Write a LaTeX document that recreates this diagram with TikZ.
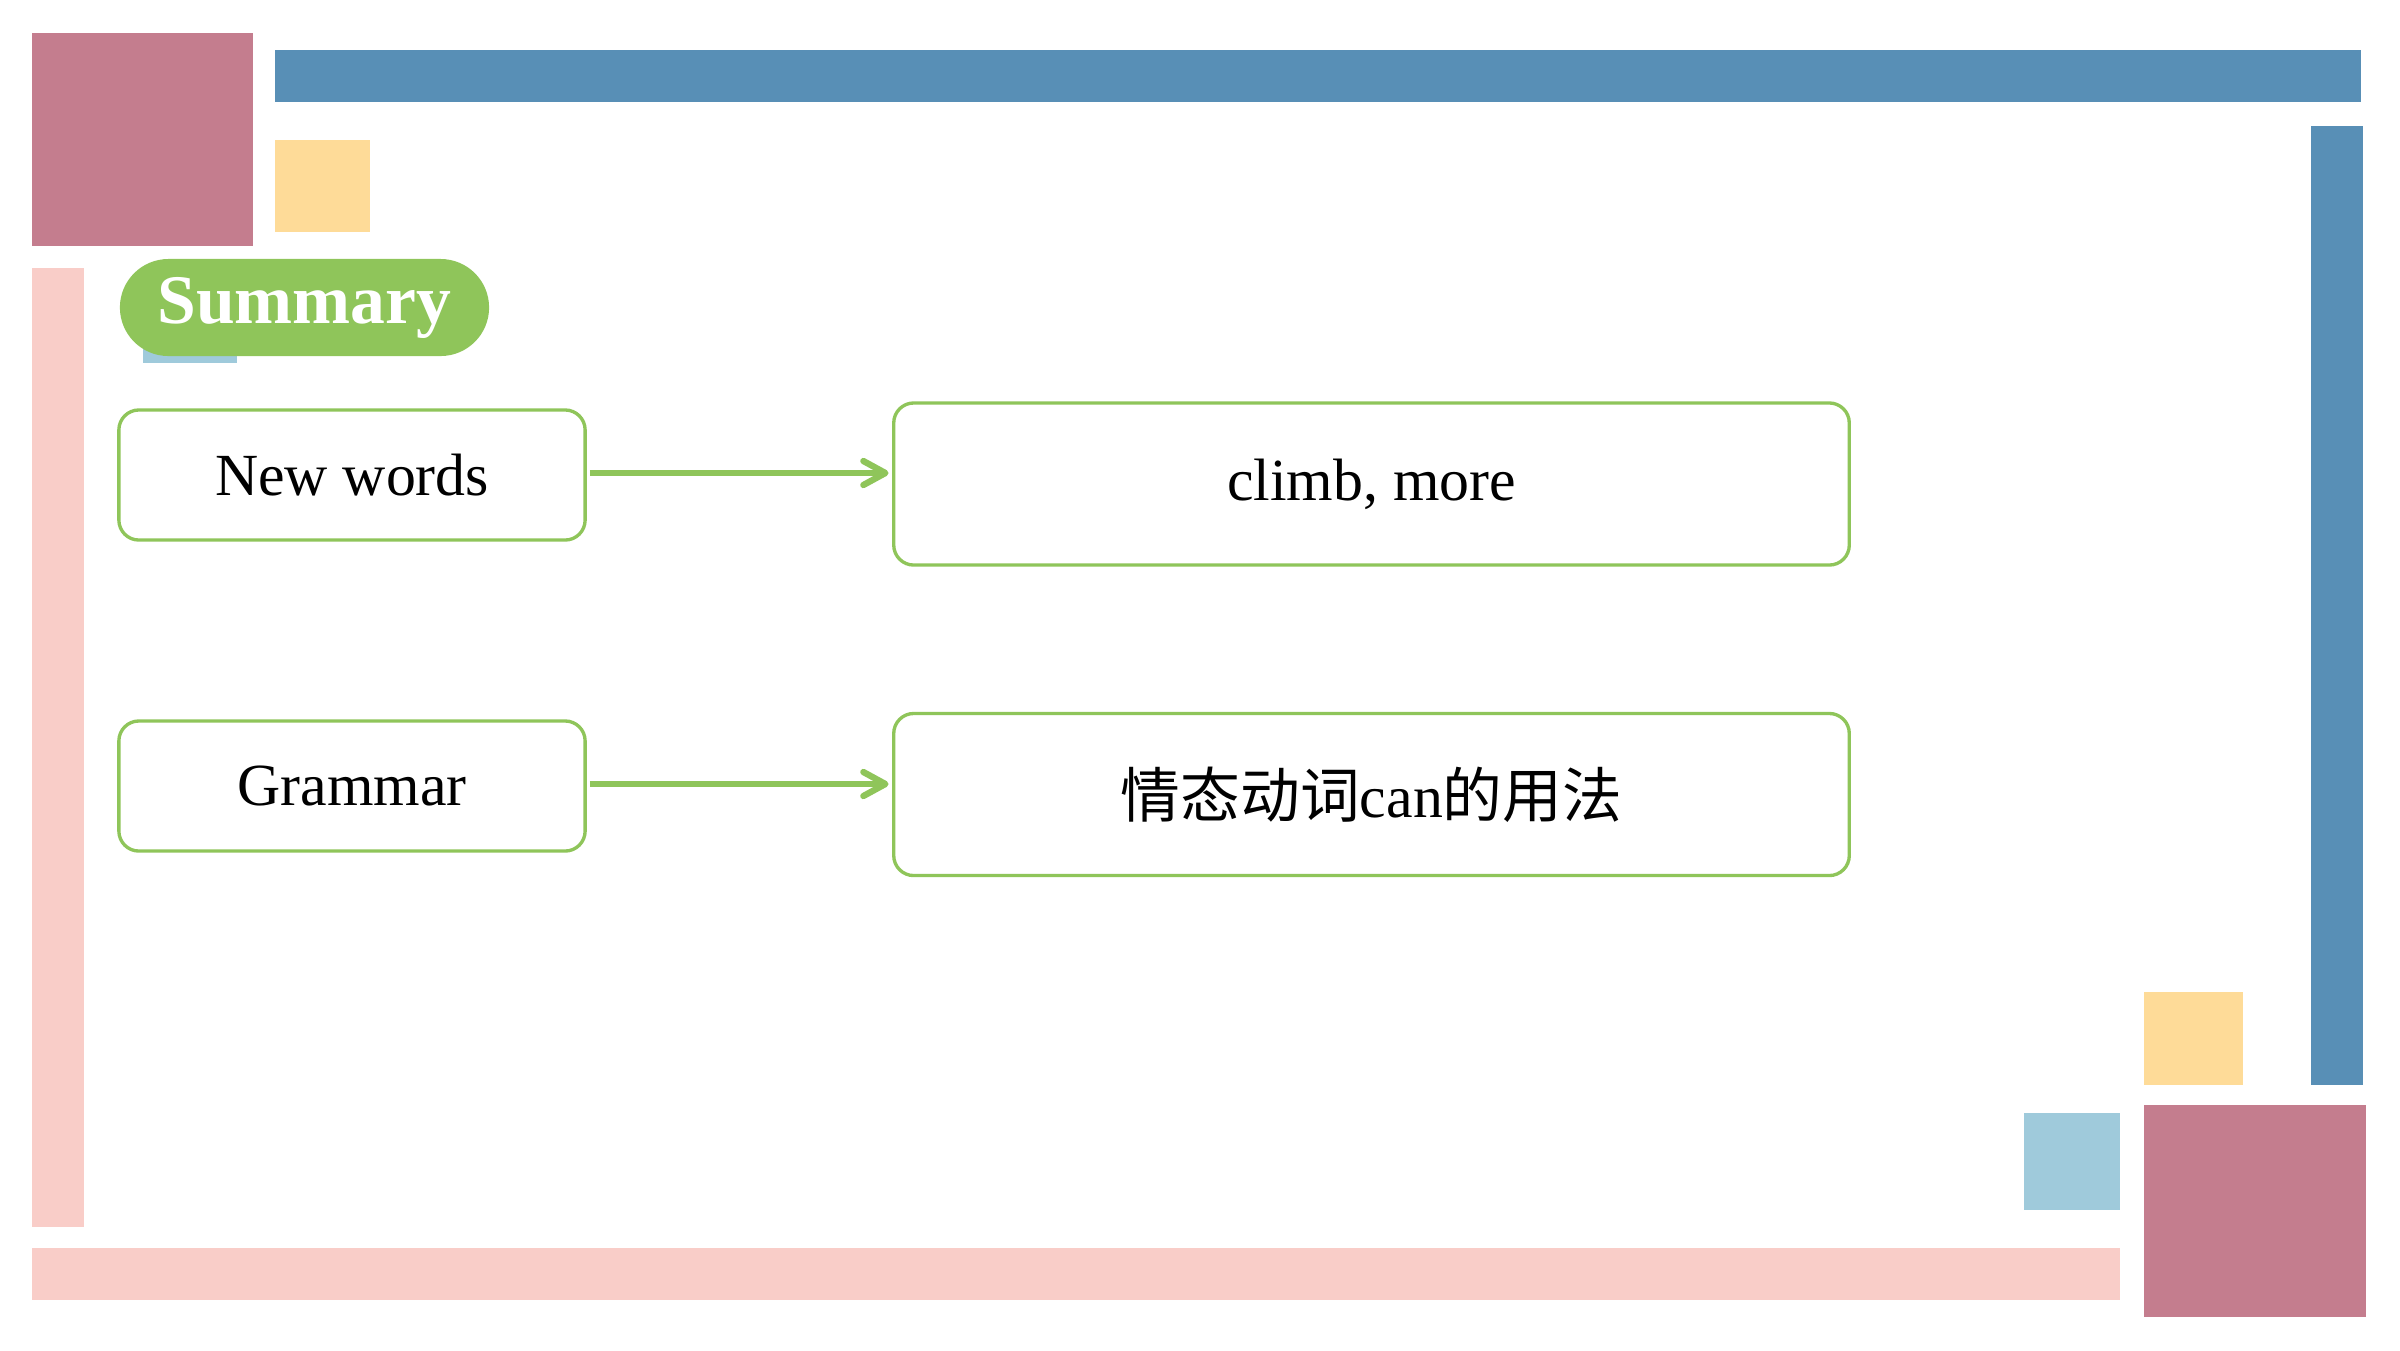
\documentclass[tikz,border=0pt]{standalone}
\usepackage{fontspec}
\setmainfont{Liberation Serif}
\newfontfamily\cjk{Noto Sans CJK SC}
\usepackage{tikz}
\usetikzlibrary{arrows.meta}

\definecolor{mauve}{RGB}{196,125,142}
\definecolor{steel}{RGB}{88,143,182}
\definecolor{sand}{RGB}{254,219,152}
\definecolor{blush}{RGB}{249,205,200}
\definecolor{sky}{RGB}{159,202,219}
\definecolor{leaf}{RGB}{143,197,90}

\begin{document}
\begin{tikzpicture}[x=0.01cm, y=-0.01cm,
    itembox/.style={draw=leaf, line width=0.95pt, rounded corners=0.2cm, fill=white,
        minimum width=4.66cm, minimum height=1.3cm, font=\fontsize{17}{20}\selectfont},
    infobox/.style={itembox, minimum width=9.55cm, minimum height=1.62cm},
    linkarrow/.style={draw=leaf, line width=1.8pt,
        -{Straight Barb[round, length=2.2mm, width=2.4mm]}, shorten >=1pt}]
    \useasboundingbox (0,0) rectangle (2400,1350);

    % 边框装饰块
    \fill[mauve] (32,33) rectangle (253,246); % 左上
    \fill[steel] (275,50) rectangle (2361,102); % 上边条
    \fill[sand] (275,140) rectangle (370,232);
    \fill[blush] (32,268) rectangle (84,1227); % 左边条
    \fill[sky] (143,330) rectangle (237,363);
    \fill[steel] (2311,126) rectangle (2363,1085); % 右边条
    \fill[sand] (2144,992) rectangle (2243,1085);
    \fill[sky] (2024,1113) rectangle (2120,1210);
    \fill[mauve] (2144,1105) rectangle (2366,1317); % 右下
    \fill[blush] (32,1248) rectangle (2120,1300); % 下边条

    % 标题
    \node[fill=leaf, rounded corners=0.485cm, minimum width=3.69cm, minimum height=0.97cm,
        text=white, font=\fontsize{19.8}{22}\selectfont\bfseries] (title) at (304.5,307.5) {\raisebox{-2pt}{Summary}};

    % 左侧
    \node[itembox] (words) at (352,475) {New words};
    \node[itembox] (grammar) at (352,786) {Grammar};

    % 右侧
    \node[infobox] (wordlist) at (1371.5,484) {\raisebox{-2pt}{climb, more}};
    \node[infobox] (usage) at (1371.5,794.5) {{\cjk 情态动词}can{\cjk 的用法}};

    % 箭头
    \draw[linkarrow] (words.east) ++(3,-2) coordinate (w0) -- (w0 -| wordlist.west);
    \draw[linkarrow] (grammar.east) ++(3,-2) coordinate (g0) -- (g0 -| usage.west);
\end{tikzpicture}
\end{document}
